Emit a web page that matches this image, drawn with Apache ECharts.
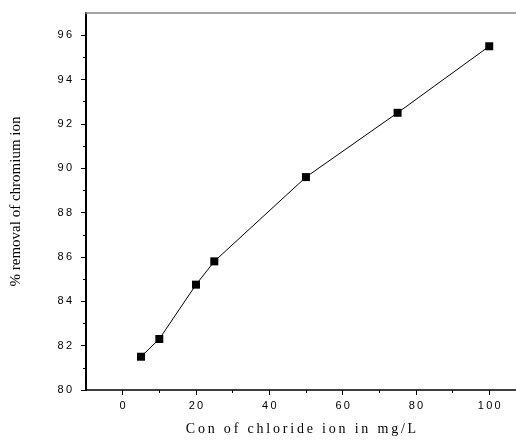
<!DOCTYPE html>
<html>
<head>
<meta charset="utf-8">
<script src="https://cdn.jsdelivr.net/npm/echarts@6/dist/echarts.min.js"></script>
<style>html,body{margin:0;padding:0;background:#fff}#c{width:516px;height:441px}</style>
</head>
<body>
<div id="c"></div>
<script>
const chlorideConc = [5, 10, 20, 25, 50, 75, 100];
const removalPct = [81.5, 82.3, 84.75, 85.8, 89.6, 92.5, 95.5];
const xMajorTicks = [0, 20, 40, 60, 80, 100];
const xMinorTicks = [10, 30, 50, 70, 90];
const yMajorTicks = [80, 82, 84, 86, 88, 90, 92, 94, 96];
const yMinorTicks = [81, 83, 85, 87, 89, 91, 93, 95];
const xTitle = 'Con of chloride ion in mg/L';
const yTitle = '% removal of chromium ion';

const spaced = s => s.split('').join('\u2009');
const spacedTitle = s => s.split('').join('\u2009');

const chart = echarts.init(document.getElementById('c'));
const X_MIN = -10, X_MAX = 107.3, Y_MIN = 80, Y_MAX = 97;
const sans = 'Liberation Sans, Arial, sans-serif';
const serif = 'Liberation Serif, Times New Roman, serif';

chart.setOption({
  animation: false,
  backgroundColor: '#fff',
  grid: { left: 86, right: 0, top: 13, bottom: 47, containLabel: false },
  xAxis: [
    {
      type: 'value', min: X_MIN, max: X_MAX, position: 'bottom',
      name: spacedTitle(xTitle), nameLocation: 'middle', nameGap: 32,
      nameTextStyle: { fontFamily: serif, fontSize: 14, color: '#000' },
      axisLine: { show: true, onZero: false, lineStyle: { color: '#000', width: 1.5 } },
      axisTick: { show: true, inside: false, length: 5, customValues: xMajorTicks, lineStyle: { color: '#000', width: 1 } },
      axisLabel: { customValues: xMajorTicks, formatter: v => spaced(String(v)), fontFamily: sans, fontSize: 11, color: '#000', margin: 10 },
      splitLine: { show: false }
    },
    {
      type: 'value', min: X_MIN, max: X_MAX, position: 'bottom', gridIndex: 0,
      axisLine: { show: false, onZero: false },
      axisTick: { show: true, length: 3, customValues: xMinorTicks, lineStyle: { color: '#000', width: 1 } },
      axisLabel: { show: false },
      splitLine: { show: false }
    },
    {
      type: 'value', min: X_MIN, max: X_MAX, position: 'top',
      axisLine: { show: true, onZero: false, lineStyle: { color: '#888', width: 1.5 } },
      axisTick: { show: false }, axisLabel: { show: false }, splitLine: { show: false }
    }
  ],
  yAxis: [
    {
      type: 'value', min: Y_MIN, max: Y_MAX, position: 'left',
      name: yTitle, nameLocation: 'middle', nameGap: 62,
      nameTextStyle: { fontFamily: serif, fontSize: 15, color: '#000' },
      axisLine: { show: true, onZero: false, lineStyle: { color: '#000', width: 2 } },
      axisTick: { show: true, length: 5, customValues: yMajorTicks, lineStyle: { color: '#000', width: 1 } },
      axisLabel: { customValues: yMajorTicks, formatter: v => spaced(String(v)), fontFamily: sans, fontSize: 11, color: '#000', margin: 14 },
      splitLine: { show: false }
    },
    {
      type: 'value', min: Y_MIN, max: Y_MAX, position: 'left',
      axisLine: { show: false, onZero: false },
      axisTick: { show: true, length: 3, customValues: yMinorTicks, lineStyle: { color: '#000', width: 1 } },
      axisLabel: { show: false },
      splitLine: { show: false }
    }
  ],
  series: [{
    type: 'line',
    xAxisIndex: 0, yAxisIndex: 0,
    data: chlorideConc.map((x, i) => [x, removalPct[i]]),
    symbol: 'rect', symbolSize: 8,
    itemStyle: { color: '#000' },
    lineStyle: { color: '#000', width: 1 },
    clip: false
  }]
});
</script>
</body>
</html>
